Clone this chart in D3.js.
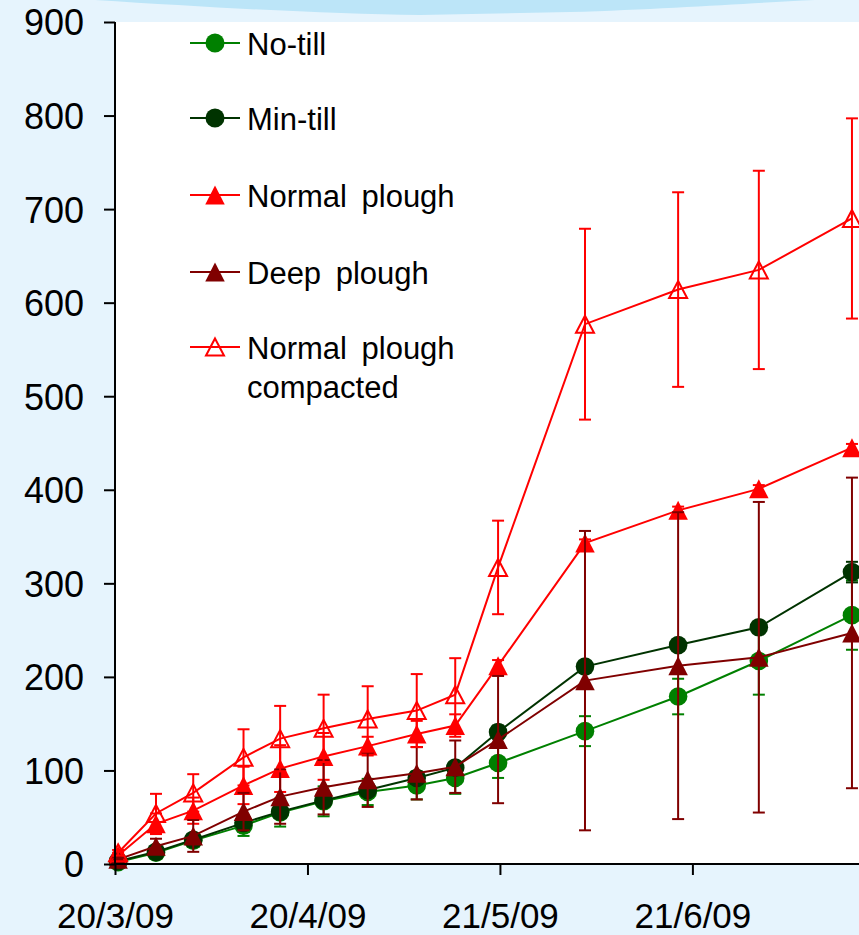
<!DOCTYPE html>
<html><head><meta charset="utf-8">
<script src="https://cdn.jsdelivr.net/npm/d3@7"></script>
<style>
html,body{margin:0;padding:0;background:#e6f4fd;}
svg{display:block;}
text{font-family:"Liberation Sans",Arial,sans-serif;fill:#000;}
</style></head>
<body>
<svg id="chart" width="859" height="935"></svg>
<script>
// ---- data ----
const days = [0.5, 6.6, 12.6, 20.7, 26.6, 33.6, 40.7, 48.6, 54.8, 61.7, 75.7, 90.7, 103.7, 118.7]; // days since 20/3/09
const xTickDays = [0, 31, 62, 93];
const xTickLabels = ["20/3/09", "20/4/09", "21/5/09", "21/6/09"];
const yTicks = [0, 100, 200, 300, 400, 500, 600, 700, 800, 900];

const noTill        = [2, 12, 25, 41, 55, 67, 77, 84, 92, 108, 142, 179, 217, 266];
const noTillErr     = [1, 4, 6, 11, 15, 16, 14, 15, 17, 16, 16, 19, 36, 37];
const minTill       = [3, 13, 26, 44, 56, 68, 79, 92, 103, 141, 211, 234, 253, 312];
const minTillErr    = [1, 3, 4, 6, 6, 6, 6, 6, 6, 7, 6, 6, 6, 11];
const normalPlough  = [9, 43, 57, 84, 102, 115, 126, 139, 148, 212, 343, 378, 401, 445];
const normalErr     = [3, 11, 14, 20, 25, 25, 10, 14, 12, 6, 4, 4, 4, 4];
const deepPlough    = [5, 19, 30, 56, 72, 82, 90, 97, 104, 133, 196, 212, 221, 247];
const deepErr       = [2, 8, 17, 20, 29, 29, 29, 28, 28, 68, 160, 164, 166, 166];
const compacted     = [12, 54, 76, 114, 134, 145, 155, 164, 181, 317, 577, 614, 635, 690];
const compactedErr  = [3, 21, 20, 30, 35, 36, 35, 39, 39, 50, 102, 104, 106, 107];

const seriesNames = ["No-till", "Min-till", "Normal plough", "Deep plough", "Normal plough\ncompacted"];
const seriesColors = ["#008000", "#003300", "#ff0000", "#800000", "#ff0000"];
const seriesMarkers = ["circle", "circle", "triangle", "triangle", "openTriangle"];
const seriesValues = [noTill, minTill, normalPlough, deepPlough, compacted];
const seriesErrors = [noTillErr, minTillErr, normalErr, deepErr, compactedErr];

// ---- layout ----
const svg = d3.select("#chart");
const W = 859, H = 935;
const plotLeft = 115, plotTop = 22, plotBottom = 864;

const x = d3.scaleLinear().domain([0, 93]).range([plotLeft, 692.4]);
const y = d3.scaleLinear().domain([0, 900]).range([plotBottom, plotTop]);

// background
svg.append("rect").attr("width", W).attr("height", H).attr("fill", "#e6f4fd");
svg.append("path")
  .attr("d", "M95,0 C220,8 330,14 420,15 L570,12 C670,9 750,3 815,0 Z")
  .attr("fill", "#bce5f8");
svg.append("rect").attr("x", plotLeft).attr("y", plotTop).attr("width", W - plotLeft).attr("height", plotBottom - plotTop).attr("fill", "#ffffff");

const plot = svg.append("g");

function markerPath() {
  const s = 19.5, h = 19;
  return `M0,${-h/2}L${s/2},${h/2}L${-s/2},${h/2}Z`;
}
function openMarkerPath() {
  const s = 18, h = 17;
  return `M0,${-h/2}L${s/2},${h/2}L${-s/2},${h/2}Z`;
}

const line = d3.line().x((d, i) => x(days[i])).y(d => y(d));

seriesValues.forEach((vals, si) => {
  const col = seriesColors[si];
  const g = plot.append("g");
  const eb = g.append("g");
  vals.forEach((v, i) => {
    const e = seriesErrors[si][i];
    const cx = x(days[i]);
    eb.append("line").attr("x1", cx).attr("x2", cx).attr("y1", y(v - e)).attr("y2", y(v + e))
      .attr("stroke", col).attr("stroke-width", 2);
    [v - e, v + e].forEach(t => {
      eb.append("line").attr("x1", cx - 6).attr("x2", cx + 6).attr("y1", y(t)).attr("y2", y(t))
        .attr("stroke", col).attr("stroke-width", 2);
    });
  });
  g.append("path").attr("d", line(vals)).attr("fill", "none").attr("stroke", col).attr("stroke-width", 2);
  vals.forEach((v, i) => {
    const cx = x(days[i]), cy = y(v);
    const m = seriesMarkers[si];
    if (m === "circle") {
      g.append("circle").attr("cx", cx).attr("cy", cy).attr("r", 9.3).attr("fill", col);
    } else if (m === "triangle") {
      g.append("path").attr("d", markerPath()).attr("transform", `translate(${cx},${cy})`).attr("fill", col);
    } else {
      g.append("path").attr("d", openMarkerPath()).attr("transform", `translate(${cx},${cy})`)
        .attr("fill", "none").attr("stroke", col).attr("stroke-width", 2);
    }
  });
});

// axes
const yAxis = svg.append("g").attr("transform", `translate(${plotLeft},0)`)
  .call(d3.axisLeft(y).tickValues(yTicks).tickSize(11).tickPadding(20).tickFormat(d3.format("d")));
yAxis.select(".domain").attr("stroke", "#000").attr("stroke-width", 2).attr("d", `M0,${plotTop}V${plotBottom}`);
yAxis.selectAll(".tick line").attr("stroke", "#000").attr("stroke-width", 2);
yAxis.selectAll(".tick text").attr("font-size", 36).attr("font-family", "Liberation Sans, Arial, sans-serif").attr("fill", "#000").attr("dy", "0.36em");

const xAxis = svg.append("g").attr("transform", `translate(0,${plotBottom})`)
  .call(d3.axisBottom(x).tickValues(xTickDays).tickSize(11).tickPadding(28).tickFormat((d, i) => xTickLabels[i]));
xAxis.select(".domain").attr("stroke", "#000").attr("stroke-width", 2).attr("d", `M${plotLeft},0H${W}`);
xAxis.selectAll(".tick line").attr("stroke", "#000").attr("stroke-width", 2);
xAxis.selectAll(".tick text").attr("font-size", 35).attr("font-family", "Liberation Sans, Arial, sans-serif").attr("fill", "#000");

// legend
const legendY = [43, 118, 195, 272, 347];
const lg = svg.append("g");
seriesNames.forEach((name, si) => {
  const ly = legendY[si];
  const col = seriesColors[si];
  lg.append("line").attr("x1", 190).attr("x2", 240).attr("y1", ly).attr("y2", ly).attr("stroke", col).attr("stroke-width", 2);
  const m = seriesMarkers[si];
  if (m === "circle") {
    lg.append("circle").attr("cx", 215).attr("cy", ly).attr("r", 9.5).attr("fill", col);
  } else if (m === "triangle") {
    lg.append("path").attr("d", markerPath()).attr("transform", `translate(215,${ly})`).attr("fill", col);
  } else {
    lg.append("path").attr("d", openMarkerPath()).attr("transform", `translate(215,${ly})`).attr("fill", "none").attr("stroke", col).attr("stroke-width", 2);
  }
  name.split("\n").forEach((t, k) => {
    lg.append("text").attr("x", 247).attr("y", ly + 12 + k * 39).attr("font-size", 31)
      .attr("word-spacing", 6).text(t);
  });
});
</script>
</body></html>
